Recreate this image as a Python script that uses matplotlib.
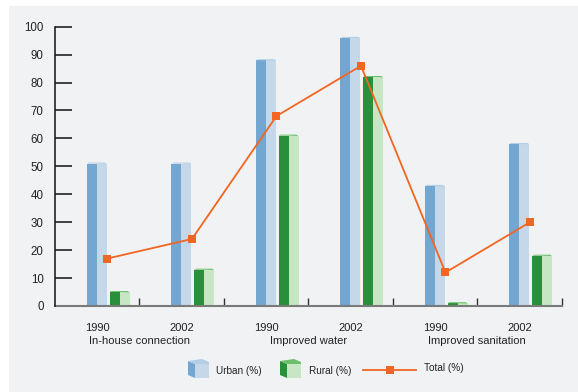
import matplotlib
matplotlib.use("Agg")
import matplotlib.pyplot as plt
from matplotlib.patches import Rectangle, Polygon
from matplotlib.lines import Line2D
import numpy as np

plt.rcParams['font.family'] = ['Liberation Sans', 'DejaVu Sans']

# Data
years = ["1990", "2002", "1990", "2002", "1990", "2002"]
categories = ["In-house connection", "Improved water", "Improved sanitation"]
urban = [51, 51, 88, 96, 43, 58]
rural = [5, 13, 61, 82, 1, 18]
total = [17, 24, 68, 86, 12, 30]

W, H = 578, 392
fig = plt.figure(figsize=(W / 100, H / 100), dpi=100, facecolor="white")

# Grey panel behind the chart
fig.add_artist(Rectangle((9 / W, 0), 1 - 9 / W, 1 - 6 / H, transform=fig.transFigure,
                         facecolor="#f1f2f4", edgecolor="none", zorder=0))

ax_l, ax_r = 54.7 / W, 561.7 / W
ax_b, ax_t = (H - 306) / H, (H - 26.7) / H
ax = fig.add_axes([ax_l, ax_b, ax_r - ax_l, ax_t - ax_b])
ax.set_facecolor("none")
ax.set_xlim(-0.5, 5.5)
ax.set_ylim(0, 100)

px = 6 / 507.0          # data units in x per pixel
py = 100 / 279.3        # data units in y per pixel
bw = 20 * px
u_off = -10 * px
r_off = 12.6 * px
t_off = 10.5 * px

U_DARK, U_LIGHT, U_TOP = "#73a6d1", "#c4d8ea", "#b3cde6"
R_DARK, R_LIGHT, R_TOP = "#2a8f3a", "#c6e6c4", "#6cc06c"


def bar3d(x0, h, dark, light, top):
    half = bw / 2
    ax.add_patch(Rectangle((x0, 0), half, h, facecolor=dark, edgecolor="none", zorder=2))
    ax.add_patch(Rectangle((x0 + half, 0), half, h, facecolor=light, edgecolor="none", zorder=2))
    cap = 1.0 * py
    ax.add_patch(Polygon([(x0, h), (x0 + half, h), (x0 + bw, h - 0.3 * cap),
                          (x0 + bw - 2 * px, h + cap), (x0 + 2 * px, h + cap)],
                         closed=True, facecolor=top, edgecolor="none", zorder=2))


x = np.arange(len(years))
for i in x:
    bar3d(i + u_off, urban[i], U_DARK, U_LIGHT, U_TOP)
    bar3d(i + r_off, rural[i], R_DARK, R_LIGHT, R_TOP)

ax.plot(x + t_off, total, color="#f26522", lw=1.3, marker="s", markersize=5.5,
        markeredgewidth=0, zorder=4)

# Axes styling
for s in ["top", "right"]:
    ax.spines[s].set_visible(False)
ax.spines["left"].set_color("#222222")
ax.spines["left"].set_linewidth(1.2)
ax.spines["bottom"].set_color("#7a7a7a")
ax.spines["bottom"].set_linewidth(1.5)
ax.spines["left"].set_zorder(5)

ax.set_yticks(np.arange(0, 101, 10))
ax.tick_params(axis="y", direction="in", length=12, width=1.2, color="#222222",
               pad=8, labelsize=8.3, labelcolor="#222222")

ax.set_xticks(np.arange(0.5, 5.6, 1.0))
ax.set_xticklabels([])
ax.tick_params(axis="x", direction="in", length=6, width=1.0, color="#333333")
ax.set_xticks(x, minor=True)
ax.set_xticklabels(years, minor=True)
ax.tick_params(axis="x", which="minor", length=0, pad=12, labelsize=8,
               labelcolor="#222222")

for k, cat in enumerate(categories):
    ax.text(2 * k + 0.5, -34.5 * py, cat, ha="center", va="center", fontsize=8,
            color="#222222", clip_on=False)

# Legend
def fx(v):
    return v / W


def fy(v):
    return 1 - v / H


def cube(xl, yt, dark, light, top):
    # front face
    fig.add_artist(Polygon([(fx(xl + 7), fy(yt + 5)), (fx(xl + 21), fy(yt + 5)),
                            (fx(xl + 21), fy(yt + 19)), (fx(xl + 7), fy(yt + 19))],
                           closed=True, transform=fig.transFigure, facecolor=light,
                           edgecolor="none"))
    # side face
    fig.add_artist(Polygon([(fx(xl), fy(yt + 2)), (fx(xl + 7), fy(yt + 5)),
                            (fx(xl + 7), fy(yt + 19)), (fx(xl), fy(yt + 16))],
                           closed=True, transform=fig.transFigure, facecolor=dark,
                           edgecolor="none"))
    # top face
    fig.add_artist(Polygon([(fx(xl), fy(yt + 2)), (fx(xl + 14), fy(yt)),
                            (fx(xl + 21), fy(yt + 3)), (fx(xl + 21), fy(yt + 5)),
                            (fx(xl + 7), fy(yt + 5))],
                           closed=True, transform=fig.transFigure, facecolor=top,
                           edgecolor="none"))


cube(188, 359, U_DARK, U_LIGHT, U_TOP)
fig.text(fx(216), fy(371), "Urban (%)", fontsize=7.2, va="center", ha="left", color="#222222")
cube(280, 359, R_DARK, R_LIGHT, R_TOP)
fig.text(fx(309), fy(371), "Rural (%)", fontsize=7.2, va="center", ha="left", color="#222222")
fig.add_artist(Line2D([fx(363), fx(416)], [fy(370), fy(370)], transform=fig.transFigure,
                      color="#f26522", lw=1.3))
fig.add_artist(Line2D([fx(389.5)], [fy(370)], transform=fig.transFigure, color="#f26522",
                      marker="s", markersize=5.5, markeredgewidth=0))
fig.text(fx(424), fy(368), "Total (%)", fontsize=7.2, va="center", ha="left", color="#222222")

fig.savefig("out.png", dpi=100, facecolor="white")
